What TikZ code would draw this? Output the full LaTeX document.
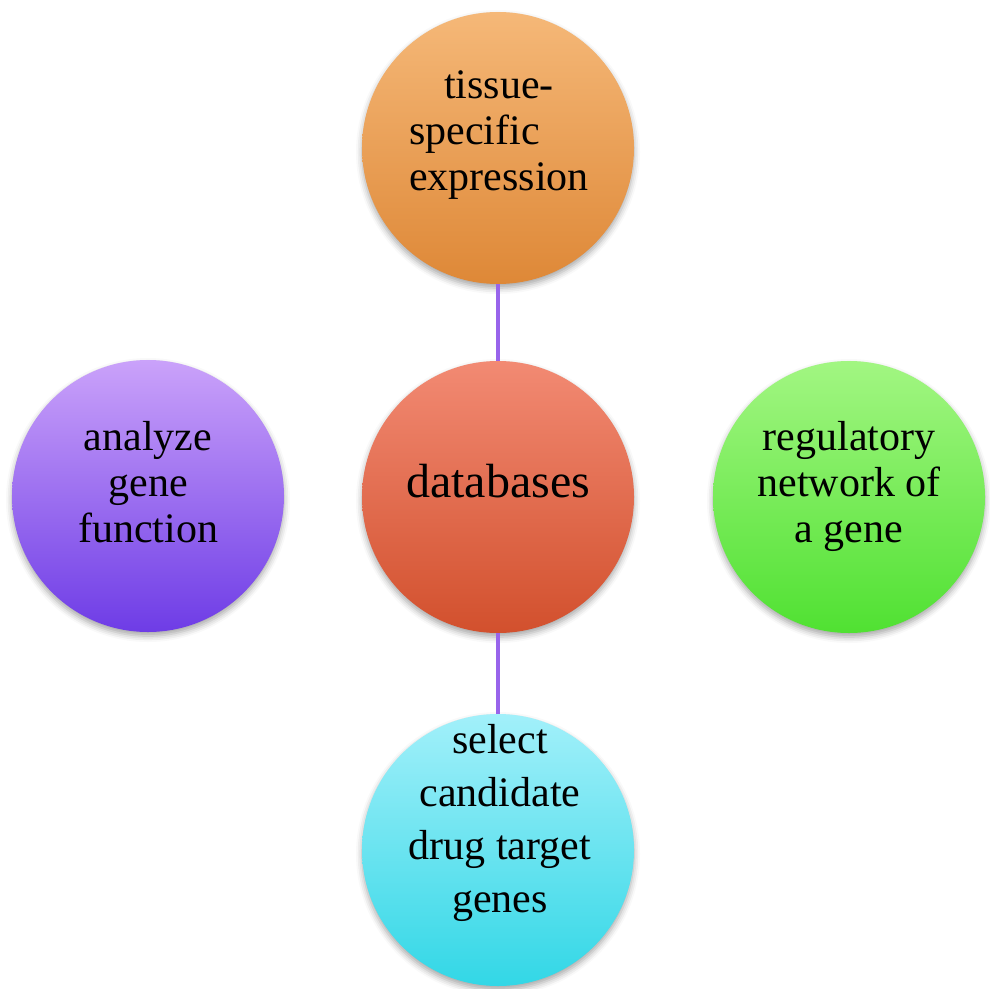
\documentclass[tikz,border=0pt]{standalone}
\usepackage{fontspec}
\setmainfont{Liberation Serif}
\usetikzlibrary{shadows.blur}
\definecolor{orTop}{RGB}{245,184,120}
\definecolor{orBot}{RGB}{222,136,55}
\definecolor{rdTop}{RGB}{242,138,115}
\definecolor{rdBot}{RGB}{210,80,45}
\definecolor{puTop}{RGB}{202,162,250}
\definecolor{puBot}{RGB}{110,60,230}
\definecolor{grTop}{RGB}{162,246,130}
\definecolor{grBot}{RGB}{80,225,50}
\definecolor{cyTop}{RGB}{162,240,250}
\definecolor{cyBot}{RGB}{50,215,230}
\definecolor{linkc}{RGB}{152,100,235}
\tikzset{
  bubble/.style={circle, inner sep=0pt, minimum size=272pt,
    blur shadow={shadow xshift=0pt, shadow yshift=-4pt, shadow blur radius=6pt, shadow opacity=35}},
  txt/.style={align=center, inner sep=0pt, font=\fontsize{42}{46}\selectfont},
  link/.style={draw=linkc, line width=4pt}
}
\begin{document}
\begin{tikzpicture}[x=1pt,y=-1pt]
\useasboundingbox (0,0) rectangle (990,988);
\node[bubble, top color=orTop, bottom color=orBot] (tse) at (498,148) {};
\node[bubble, top color=rdTop, bottom color=rdBot] (db) at (498,497) {};
\node[bubble, top color=puTop, bottom color=puBot] (agf) at (148,496) {};
\node[bubble, top color=grTop, bottom color=grBot] (rng) at (849,497) {};
\node[bubble, top color=cyTop, bottom color=cyBot] (sdt) at (498,850) {};
\draw[link] (tse) -- (db);
\draw[link] (db) -- (sdt);
\node[txt, align=left] (tset) at (499,135) {\hspace{35pt}tissue-\\specific\\expression};
\node[txt, font=\fontsize{48}{52}\selectfont, anchor=base] (dbt) at (498,497) {databases};
\node[txt] (agft) at (148,482) {analyze\\gene\\function};
\node[txt] (rngt) at (849,486) {regulatory\\network of\\a gene};
\node[txt, font=\fontsize{42}{53}\selectfont] (sdtt) at (500,823) {select\\candidate\\drug target\\genes};
\end{tikzpicture}
\end{document}
